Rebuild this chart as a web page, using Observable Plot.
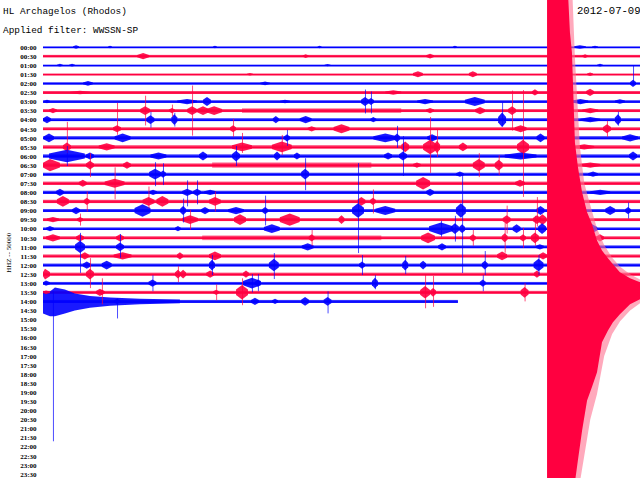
<!DOCTYPE html>
<html><head><meta charset="utf-8">
<script src="https://cdn.jsdelivr.net/npm/d3@7"></script>
<script src="https://cdn.jsdelivr.net/npm/@observablehq/plot@0.6"></script>
<style>
body{margin:0;background:#fff;}
#wrap{position:relative;width:640px;height:478px;overflow:hidden;background:#fff;}
.t{position:absolute;font-family:"Liberation Mono",monospace;color:#000;white-space:nowrap;line-height:1;}
</style></head><body>
<div id="wrap"></div>
<script>
// ---- text ----
const title = "HL Archagelos (Rhodos)";
const subtitle = "Applied filter: WWSSN-SP";
const dateLabel = "2012-07-09";
const channelLabel = "HHZ -- 50000";
const rowLabels = ["00:00","00:30","01:00","01:30","02:00","02:30","03:00","03:30","04:00","04:30",
  "05:00","05:30","06:00","06:30","07:00","07:30","08:00","08:30","09:00","09:30","10:00","10:30",
  "11:00","11:30","12:00","12:30","13:00","13:30","14:00","14:30","15:00","15:30","16:00","16:30",
  "17:00","17:30","18:00","18:30","19:00","19:30","20:00","20:30","21:00","21:30","22:00","22:30",
  "23:00","23:30"];
const rowColors = ["#0000ff", "#ff0040"]; // full hours, half hours
const fringeColor = "#ff6f8f";

// ---- data (x in minutes within the half-hour line, amplitudes in thousands of counts) ----
const countsPerRow = 50; // 50000 counts per line spacing
// background noise half-amplitude of each recorded line (00:00 .. 14:00)
const noiseK = [2.5,5,3,4,6,6,7,8,8,8,9,9,9,9,8,9,9,9,8,8,7,8,8,8,8,8,7,8,8];
// minute at which each recorded line ends
const traceEnd = [30,30,30,30,30,30,30,30,30,30,30,30,30,30,30,30,30,30,30,30,30,30,30,30,30,30,30,25.33,20.85];
// stretches of raised noise: [line, from minute, to minute, amplitude]
const noisy = [[7,10,18,13],[13,8.5,16.5,15],[21,8,17,13],[1,0,30,7],[5,0,30,8]];
// events: [line, minute, burst amplitude, burst duration, spike up, spike down]
const events = [
 [0,1.66,11,0.3,0,0],[0,3.37,8,0.2,0,0],[0,8.64,8,0.2,0,0],[0,13.9,8,0.2,0,0],[0,20.7,8,0.2,0,0],[0,26.98,11,0.6,0,0],[0,27.74,8,0.3,0,0],
 [1,5.03,19,0.6,0,0],[1,13.2,11,0.3,0,0],[1,19.45,14,0.4,0,0],[1,27.24,11,0.3,0,0],
 [2,0.85,8,0.3,0,0],[2,1.46,8,0.3,0,0],[2,14.3,7,0.3,0,0],[2,27.99,8,0.3,0,0],
 [3,18.84,19,0.5,0,0],[3,21.6,19,0.4,0,0],[3,10.4,8,0.3,0,0],[3,27.49,11,0.3,0,0],
 [4,2.26,14,0.5,0,0],[4,11.16,11,0.5,0,0],[4,29.65,22,0.3,100,11],
 [5,1.86,11,1.0,0,0],[5,17.6,14,0.8,0,0],[5,24.72,19,0.3,0,0],[5,27.49,22,0.4,0,0],
 [6,0.2,11,0.3,0,0],[6,7.24,16,1.0,0,0],[6,8.24,27,0.4,0,0],[6,12.16,11,0.5,0,0],[6,16.18,27,0.4,66,66],[6,16.48,22,0.3,55,66],[6,19.2,16,0.8,0,0],[6,21.7,27,1.0,0,0],[6,27.0,16,0.8,0,0],[6,28.99,14,0.5,0,0],
 [7,0.5,16,0.4,0,0],[7,5.13,27,0.5,82,82],[7,6.48,16,0.3,33,33],[7,7.49,27,0.5,138,138],[7,8.04,27,0.6,0,0],[7,8.6,27,0.8,0,0],[7,19.45,16,0.4,0,0],[7,21.96,22,0.5,0,0],[7,23.57,27,0.4,110,110],[7,27.5,16,0.8,0,0],
 [8,0.2,22,0.4,0,0],[8,5.4,27,0.4,44,44],[8,6.6,33,0.3,38,38],[8,11.7,22,0.3,0,0],[8,13.2,22,0.6,0,0],[8,16.6,16,0.3,0,0],[8,23.07,44,0.4,99,38],[8,27.5,16,1.0,0,0],[8,28.89,33,0.3,44,33],
 [9,3.72,22,0.4,143,33],[9,9.55,22,0.3,55,44],[9,13.5,16,0.4,0,0],[9,15.0,27,0.8,0,0],[9,24.0,22,0.6,0,0],[9,28.34,27,0.4,44,44],
 [10,0.3,27,0.5,0,0],[10,4.0,27,0.8,0,0],[10,12.26,22,0.3,44,44],[10,17.2,27,1.2,0,0],[10,17.79,27,0.3,66,55],[10,19.55,22,0.5,0,0],[10,25.0,27,0.4,0,0],[10,29.5,22,0.8,0,0],
 [11,1.2,27,0.4,138,33],[11,3.2,22,0.8,0,0],[11,10.0,27,1.0,77,33],[11,12.0,33,1.0,66,44],[11,18.2,33,0.4,0,0],[11,19.45,44,0.7,165,143],[11,19.8,38,0.3,99,55],[11,21.1,27,0.4,0,0],[11,24.12,44,0.6,313,275],[11,27.2,16,1.0,0,0],
 [12,1.2,38,1.8,55,55],[12,2.36,22,0.4,0,0],[12,5.8,22,0.8,0,0],[12,8.04,27,0.4,0,0],[12,9.7,33,0.4,55,55],[12,11.76,27,0.3,0,0],[12,12.76,22,0.3,0,0],[12,17.34,22,0.4,0,0],[12,18.09,27,0.4,110,110],[12,24.0,22,1.6,0,0],[12,29.65,27,0.4,0,0],
 [13,0.35,38,1.0,0,0],[13,2.36,27,0.4,66,66],[13,4.22,22,0.4,0,0],[13,18.79,16,0.4,0,0],[13,21.9,38,0.6,66,66],[13,22.9,33,0.4,55,55],[13,27.5,16,1.0,0,0],
 [14,5.63,33,0.6,66,66],[14,6.03,22,0.3,60,60],[14,13.17,33,0.4,88,88],[14,20.95,16,0.4,0,0],[14,27.64,16,0.5,0,0],
 [15,2.0,22,0.4,0,0],[15,3.6,27,1.0,88,88],[15,19.1,38,0.7,0,0],[15,23.97,22,0.5,0,0],
 [16,0.85,22,0.4,0,0],[16,5.53,16,0.4,0,0],[16,7.24,22,0.5,66,77],[16,7.74,22,0.4,66,66],[16,8.4,16,0.6,0,0],[16,19.45,22,0.4,0,0],[16,28.0,16,1.0,0,0],
 [17,1.0,33,0.6,0,0],[17,2.2,22,0.3,55,55],[17,5.3,27,0.6,82,38],[17,6.0,33,0.6,0,0],[17,8.64,27,0.6,55,55],[17,16.0,27,0.4,0,0],[17,16.58,22,0.3,66,66],
 [18,1.66,22,0.4,0,0],[18,5.0,38,0.8,0,0],[18,7.04,27,0.3,66,66],[18,8.14,22,0.4,0,0],[18,9.7,22,0.8,0,0],[18,11.16,22,0.3,82,82],[18,15.83,44,0.6,261,234],[18,17.2,27,1.0,0,0],[18,21.0,44,0.5,0,0],[18,25.0,27,0.4,0,0],[18,28.5,27,0.5,0,0],[18,29.4,22,0.3,44,44],
 [19,0.5,16,0.6,0,0],[19,1.86,16,0.3,33,33],[19,7.39,27,0.8,55,55],[19,9.9,33,0.6,0,0],[19,12.4,38,1.0,0,0],[19,15.0,27,0.3,0,0],[19,23.3,27,0.4,77,77],[19,24.82,27,0.4,124,38],[19,25.1,33,0.4,0,0],
 [20,0.35,16,0.4,0,0],[20,6.78,16,0.3,0,0],[20,11.5,27,0.8,0,0],[20,20.0,38,1.2,44,44],[20,20.7,33,0.4,71,71],[20,21.06,27,0.3,306,244],[20,23.8,27,0.4,0,0],[20,25.08,33,0.4,0,0],[20,27.6,27,0.5,0,0],
 [21,0.5,22,0.7,0,0],[21,1.86,22,0.4,0,0],[21,3.87,22,0.4,0,0],[21,13.5,22,0.3,44,44],[21,19.35,33,0.7,0,0],[21,21.6,22,0.3,44,44],[21,23.2,27,0.3,82,82],[21,24.12,22,0.3,55,55],[21,24.72,33,0.4,121,44],[21,27.99,22,0.4,0,0],
 [22,1.86,38,0.5,77,143],[22,3.87,27,0.4,71,60],[22,13.3,22,0.6,0,0],[22,20.05,22,0.4,0,0],[22,24.97,16,0.4,0,0],
 [23,2.1,22,0.4,0,0],[23,4.0,22,0.9,0,0],[23,6.88,22,0.3,0,0],[23,8.64,27,0.6,0,0],[23,23.07,27,0.5,0,0],[23,25.13,22,0.4,0,0],
 [24,2.2,22,0.4,0,0],[24,3.2,27,0.5,0,0],[24,8.49,33,0.3,55,55],[24,11.6,38,0.5,66,77],[24,16.03,22,0.3,55,55],[24,18.2,33,0.3,50,50],[24,19.1,27,0.3,0,0],[24,22.2,27,0.3,77,55],[24,24.9,38,0.5,55,55],
 [25,0.1,33,0.5,0,0],[25,2.36,33,0.4,88,77],[25,6.78,27,0.3,44,44],[25,7.04,27,0.3,0,0],[25,8.4,22,0.4,0,0],[25,10.2,22,0.3,0,0],[25,24.82,22,0.3,0,0],
 [26,0.15,16,0.4,0,0],[26,5.5,22,0.4,44,44],[26,10.5,33,0.9,50,50],[26,10.8,22,0.3,50,44],[26,16.68,33,0.3,44,33],[26,22.1,22,0.3,44,44],
 [27,0.15,11,0.4,0,0],[27,2.86,22,0.4,0,0],[27,2.96,16,0.3,77,66],[27,8.7,16,0.3,44,44],[27,10.0,44,0.6,77,71],[27,19.2,38,0.5,99,88],[27,19.6,27,0.3,90,80],[27,24.2,33,0.4,50,50],
 [28,3.72,16,0.3,16,94],[28,10.65,22,0.4,0,0],[28,11.66,16,0.3,0,0],[28,13.17,27,0.4,0,0],[28,14.3,27,0.4,55,66],[28,0.5,0,0,55,770]
];
// main shock on the 13:30 line, solid part: [minute, amplitude up, amplitude down]
const quake = [[25.33,1650,1100],[26.38,1650,1100],[26.48,1430,1100],[26.58,1320,1100],[26.73,825,1045],[26.88,690,925],
 [27.09,550,760],[27.34,440,595],[27.59,375,520],[27.84,285,440],[28.09,230,275],[28.39,187,210],[28.64,154,165],
 [28.99,110,121],[29.5,77,66],[30,55,38]];
// outer reach of the lighter swings around the main shock
const quakeOuter = [[25.33,1650,1100],[26.6,1650,1100],[26.73,1290,1100],[26.98,800,1045],[27.2,600,900],[27.5,480,700],
 [27.84,350,560],[28.2,260,350],[28.6,190,230],[29.0,140,160],[29.5,100,100],[30,70,60]];
// coda at the start of the 14:00 line: [minute, amplitude up, amplitude down]
const coda = [[0,55,66],[0.35,55,82],[0.6,77,82],[1.1,66,66],[1.6,44,50],[2.36,30,35],[3.37,22,24],[4.87,14,16],[6.88,10,10]];

const quakeRow = 27, codaRow = 28;
const k = countsPerRow;
const lines = noiseK.map((n, i) => ({row: i, noise: n, end: traceEnd[i], color: rowColors[i % 2]}));
const ev = events.map(([row, m, b, dur, up, down], id) => ({id, row, m, b, dur, up, down, color: rowColors[row % 2]}));
const noisySeg = noisy.map(([row, m1, m2, a]) => ({row, m1, m2: Math.min(m2, traceEnd[row]), a, color: rowColors[row % 2]}));
// each burst drawn as a spindle: start, peak, end
const spindles = ev.filter(d => d.b > 0).flatMap(d => [
  {id: d.id, color: d.color, row: d.row, m: Math.max(0, d.m - d.dur / 2), a: d.b * 0.35},
  {id: d.id, color: d.color, row: d.row, m: d.m, a: d.b * 0.9},
  {id: d.id, color: d.color, row: d.row, m: d.m + d.dur / 2, a: d.b * 0.35}
]);

const chart = Plot.plot({
  width: 640, height: 478,
  marginTop: 47, marginBottom: 4, marginLeft: 43, marginRight: 0,
  x: {domain: [0, 30], axis: null},
  y: {domain: [0, rowLabels.length - 1], reverse: true, axis: null},
  color: {type: "identity"},
  style: {fontFamily: "'Liberation Serif', serif", fontSize: "7px", background: "transparent"},
  marks: [
    Plot.text(rowLabels, {y: (d, i) => i, text: d => d, frameAnchor: "left", textAnchor: "end", dx: -7, fill: "#000", fontWeight: "bold"}),
    Plot.text([channelLabel], {y: () => 24.8, text: d => d, frameAnchor: "left", dx: -35, rotate: -90, fill: "#000"}),
    Plot.rect(lines, {x1: () => 0, x2: "end", y1: d => d.row - d.noise / k, y2: d => d.row + d.noise / k, fill: "color", fillOpacity: 0.8}),
    Plot.rect(noisySeg, {x1: "m1", x2: "m2", y1: d => d.row - d.a / k, y2: d => d.row + d.a / k, fill: "color", fillOpacity: 0.5}),
    Plot.ruleY(lines, {x1: () => 0, x2: "end", y: "row", stroke: "color", strokeWidth: 1.5}),
    Plot.areaY(coda, {x: d => d[0], y1: d => codaRow - d[1] / k, y2: d => codaRow + d[2] / k, fill: rowColors[codaRow % 2], fillOpacity: 0.9}),
    Plot.areaY(spindles, {x: "m", y1: d => d.row - d.a / k, y2: d => d.row + d.a / k, z: "id", fill: "color", fillOpacity: 0.9}),
    Plot.ruleX(ev.filter(d => d.up > 0 || d.down > 0), {x: "m", y1: d => d.row - d.up / k, y2: d => d.row + d.down / k, stroke: "color", strokeWidth: 1, strokeOpacity: 0.7}),
    Plot.areaY(quakeOuter, {x: d => d[0], y1: d => quakeRow - d[1] / k, y2: d => quakeRow + d[2] / k, fill: fringeColor, fillOpacity: 0.6}),
    Plot.areaY(quake, {x: d => d[0], y1: d => quakeRow - d[1] / k, y2: d => quakeRow + d[2] / k, fill: rowColors[quakeRow % 2]})
  ]
});

const wrap = document.getElementById("wrap");
wrap.appendChild(chart);
function addText(txt, left, top, size) {
  const d = document.createElement("div");
  d.className = "t"; d.textContent = txt;
  d.style.left = left + "px"; d.style.top = top + "px"; d.style.fontSize = size + "px";
  wrap.appendChild(d);
}
addText(title, 3, 7, 9.4);
addText(subtitle, 3, 26, 9.4);
addText(dateLabel, 577, 6, 10.6);
</script>
</body></html>
